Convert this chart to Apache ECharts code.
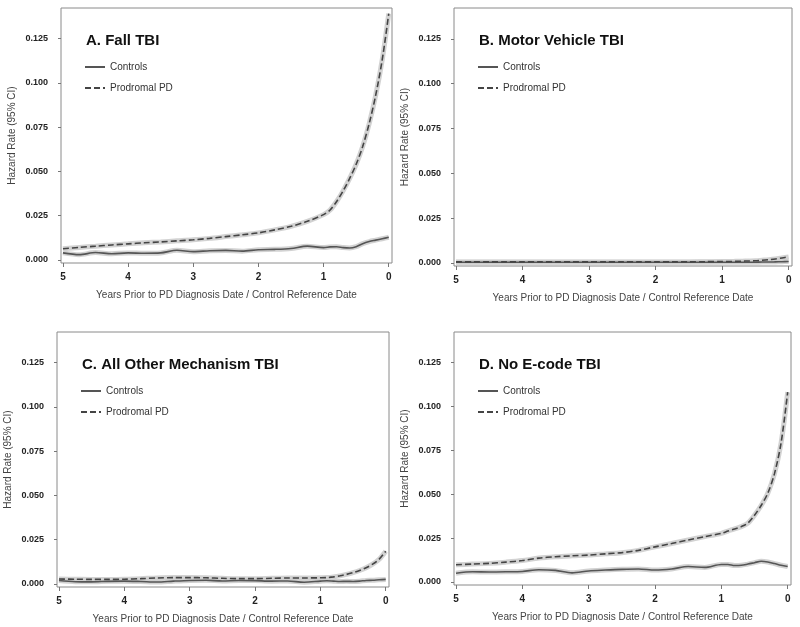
<!DOCTYPE html>
<html>
<head>
<meta charset="utf-8">
<script src="https://cdn.jsdelivr.net/npm/echarts@6/dist/echarts.min.js"></script>
<style>
  html, body { margin: 0; padding: 0; background: #fff; }
  #chart { width: 800px; height: 627px; }
</style>
</head>
<body>
<div id="chart"></div>
<script>
  // years before diagnosis (x values shared by every panel)
  const years = [5, 4.75, 4.5, 4.25, 4, 3.75, 3.5, 3.25, 3, 2.75, 2.5, 2.25, 2, 1.75, 1.5, 1.25, 1, 0.9, 0.8, 0.7, 0.6, 0.5, 0.4, 0.3, 0.2, 0.1, 0];

  const panelTitles = ['A. Fall TBI', 'B. Motor Vehicle TBI', 'C. All Other Mechanism TBI', 'D. No E-code TBI'];

  // A. Fall TBI
  const fallControls = [0.0040, 0.0030, 0.0042, 0.0035, 0.0040, 0.0038, 0.0040, 0.0055, 0.0047, 0.0052, 0.0054, 0.0050, 0.0058, 0.0060, 0.0065, 0.0078, 0.0070, 0.0074, 0.0075, 0.0070, 0.0068, 0.0075, 0.0092, 0.0104, 0.0112, 0.0120, 0.0128];
  const fallPD = [0.0063, 0.0071, 0.0078, 0.0085, 0.0091, 0.0097, 0.0102, 0.0108, 0.0114, 0.0122, 0.0132, 0.0142, 0.0153, 0.0170, 0.0190, 0.0218, 0.0256, 0.0282, 0.0330, 0.0390, 0.0460, 0.0540, 0.0640, 0.0770, 0.0930, 0.1130, 0.1390];

  // B. Motor Vehicle TBI
  const motorControls = [0.0004, 0.0004, 0.0004, 0.0004, 0.0004, 0.0004, 0.0004, 0.0004, 0.0004, 0.0004, 0.0004, 0.0004, 0.0004, 0.0004, 0.0004, 0.0004, 0.0004, 0.0004, 0.0004, 0.0004, 0.0004, 0.0004, 0.0005, 0.0005, 0.0006, 0.0007, 0.0008];
  const motorPD = [0.0006, 0.0006, 0.0006, 0.0006, 0.0006, 0.0006, 0.0006, 0.0006, 0.0006, 0.0006, 0.0006, 0.0006, 0.0006, 0.0006, 0.0006, 0.0007, 0.0008, 0.0008, 0.0009, 0.0010, 0.0011, 0.0012, 0.0015, 0.0018, 0.0022, 0.0028, 0.0034];

  // C. All Other Mechanism TBI
  const otherControls = [0.0020, 0.0013, 0.0012, 0.0015, 0.0016, 0.0014, 0.0011, 0.0016, 0.0020, 0.0021, 0.0017, 0.0020, 0.0019, 0.0016, 0.0017, 0.0010, 0.0016, 0.0018, 0.0016, 0.0014, 0.0015, 0.0014, 0.0016, 0.0020, 0.0021, 0.0024, 0.0026];
  const otherPD = [0.0028, 0.0027, 0.0026, 0.0026, 0.0027, 0.0030, 0.0034, 0.0036, 0.0036, 0.0035, 0.0032, 0.0030, 0.0030, 0.0032, 0.0034, 0.0034, 0.0035, 0.0036, 0.0040, 0.0046, 0.0054, 0.0064, 0.0076, 0.0092, 0.0112, 0.0140, 0.0185];

  // D. No E-code TBI
  const noCodeControls = [0.0050, 0.0058, 0.0057, 0.0058, 0.0060, 0.0070, 0.0066, 0.0052, 0.0063, 0.0068, 0.0072, 0.0074, 0.0068, 0.0074, 0.0088, 0.0083, 0.0100, 0.0100, 0.0094, 0.0095, 0.0102, 0.0110, 0.0118, 0.0114, 0.0105, 0.0095, 0.0088];
  const noCodePD = [0.0098, 0.0102, 0.0106, 0.0113, 0.0122, 0.0136, 0.0144, 0.0149, 0.0153, 0.0160, 0.0167, 0.0180, 0.0200, 0.0219, 0.0239, 0.0258, 0.0277, 0.0290, 0.0302, 0.0315, 0.0335, 0.0380, 0.0435, 0.0505, 0.0615, 0.0790, 0.1080];

  const yTicks = [0, 0.025, 0.05, 0.075, 0.1, 0.125];
  const xTicks = [0, 1, 2, 3, 4, 5];

  const controlsData = [fallControls, motorControls, otherControls, noCodeControls];
  const pdData = [fallPD, motorPD, otherPD, noCodePD];

  // box of each panel in pixels
  const boxes = [
    { left: 61, top: 8, width: 331, height: 255 },
    { left: 454, top: 8, width: 338, height: 258 },
    { left: 57, top: 332, width: 332, height: 255 },
    { left: 454, top: 332, width: 337, height: 253 }
  ];

  const font = 'Arial, "Liberation Sans", sans-serif';
  const pairs = arr => arr.map((v, i) => [years[i], v]);

  const grid = [], xAxis = [], yAxis = [], series = [], title = [], legend = [];

  boxes.forEach((b, i) => {
    grid.push({
      left: b.left, top: b.top, width: b.width, height: b.height,
      show: true, borderColor: '#8a8a8a', borderWidth: 1, backgroundColor: '#fff'
    });
    xAxis.push({
      gridIndex: i, type: 'value', inverse: true, min: -0.05, max: 5.03,
      name: 'Years Prior to PD Diagnosis Date / Control Reference Date',
      nameLocation: 'middle', nameGap: 27,
      nameTextStyle: { fontFamily: font, fontSize: 10, color: '#444' },
      axisLine: { show: false, onZero: false },
      axisTick: { show: true, length: 4, customValues: xTicks, lineStyle: { color: '#777' } },
      axisLabel: { customValues: xTicks, margin: 9, fontFamily: font, fontSize: 10, fontWeight: 'bold', color: '#222' },
      splitLine: { show: false }
    });
    yAxis.push({
      gridIndex: i, type: 'value', min: -0.0017, max: 0.1422,
      name: 'Hazard Rate (95% CI)',
      nameLocation: 'middle', nameGap: 44,
      nameTextStyle: { fontFamily: font, fontSize: 10, color: '#444' },
      axisLine: { show: false, onZero: false },
      axisTick: { show: true, length: 3, customValues: yTicks, lineStyle: { color: '#777' } },
      axisLabel: {
        customValues: yTicks, margin: 13, fontFamily: font, fontSize: 9, fontWeight: 'bold', color: '#222',
        formatter: v => v.toFixed(3)
      },
      splitLine: { show: false }
    });
    title.push({
      text: panelTitles[i], left: b.left + 20, top: b.top + 20,
      textStyle: { fontFamily: font, fontSize: 15, fontWeight: 'bold', color: '#111' }
    });
    legend.push({
      data: ['Controls', 'Prodromal PD'], orient: 'vertical',
      left: b.left + 18, top: b.top + 49, itemWidth: 20, itemHeight: 10, itemGap: 11,
      selectedMode: false,
      itemStyle: { opacity: 0 },
      textStyle: { fontFamily: font, fontSize: 10, color: '#333' }
    });

    // confidence band (light halo) under each line
    [controlsData[i], pdData[i]].forEach(d => {
      series.push({
        type: 'line', xAxisIndex: i, yAxisIndex: i, data: pairs(d),
        smooth: 0.3, symbol: 'none', silent: true, z: 1,
        lineStyle: { color: '#cdcdcd', width: 5, opacity: 0.9 }
      });
    });
    series.push({
      name: 'Controls', type: 'line', xAxisIndex: i, yAxisIndex: i, data: pairs(controlsData[i]),
      smooth: 0.3, symbol: 'none', z: 3,
      lineStyle: { color: '#555', width: 1.6 }
    });
    series.push({
      name: 'Prodromal PD', type: 'line', xAxisIndex: i, yAxisIndex: i, data: pairs(pdData[i]),
      smooth: 0.3, symbol: 'none', z: 4,
      lineStyle: { color: '#444', width: 1.6, type: [6, 3] }
    });
  });

  const chart = echarts.init(document.getElementById('chart'));
  chart.setOption({
    backgroundColor: '#fff',
    animation: false,
    color: ['#555', '#444'],
    title, legend, grid, xAxis, yAxis, series
  });
</script>
</body>
</html>
